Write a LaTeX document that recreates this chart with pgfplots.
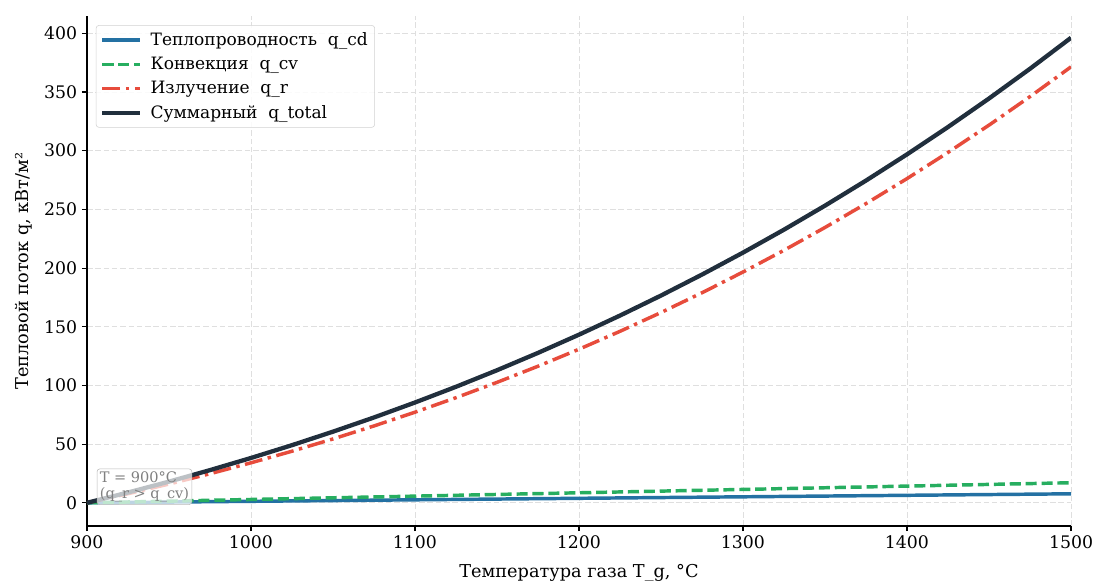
\documentclass[border=0pt]{standalone}
\usepackage{fontspec}
\setmainfont{DejaVu Serif}
\usepackage{pgfplots}
\pgfplotsset{compat=1.18}
\usetikzlibrary{calc}

\definecolor{cdblue}{HTML}{2471A3}
\definecolor{cvgreen}{HTML}{27AE60}
\definecolor{rred}{HTML}{E74C3C}
\definecolor{totdark}{HTML}{212F3D}

\begin{document}
\begin{tikzpicture}
\begin{axis}[name=ax, at={(0,0)}, anchor=south west,
  scale only axis, width=9.84in, height=5.10in,
  xmin=900, xmax=1500, ymin=-19.75, ymax=414.75,
  xtick={900,1000,...,1500}, ytick={0,50,...,400},
  axis x line*=bottom, axis y line*=left,
  axis line style={line width=0.9pt, -},
  tick align=outside, major tick length=0.05in,
  tick style={black, line width=0.8pt},
  xtick pos=bottom, ytick pos=left,
  /pgf/number format/assume math mode=true,
  /pgf/number format/1000 sep={},
  tick label style={font=\fontsize{12.5}{15}\selectfont},
  label style={font=\fontsize{12.8}{15}\selectfont},
  xlabel={Температура газа T\_g, °C},
  xlabel style={yshift=-4pt},
  ylabel={Тепловой поток q, кВт/м²},
  ylabel style={yshift=2pt},
  grid=major, grid style={gray!25, line width=0.6pt, dash pattern=on 4pt off 2pt},
  legend cell align=left,
  legend style={at={(0.009,0.982)}, anchor=north west, draw=gray!35, rounded corners=2pt,
    fill=white, fill opacity=0.85, text opacity=1, font=\fontsize{12.3}{15}\selectfont,
    row sep=3pt, inner sep=3pt},
  legend image code/.code={\draw[#1] (0cm,0cm) -- (0.95cm,0cm); \path (1.1cm,0cm);},
]
\addplot[cdblue, line width=2.5pt] coordinates {
(900,0) (925,0.32) (950,0.64) (975,0.96) (1000,1.28) (1025,1.6) (1050,1.92) (1075,2.24)
(1100,2.56) (1125,2.88) (1150,3.2) (1175,3.52) (1200,3.84) (1225,4.16) (1250,4.48)
(1275,4.8) (1300,5.12) (1325,5.44) (1350,5.76) (1375,6.08) (1400,6.4) (1425,6.72)
(1450,7.04) (1475,7.36) (1500,7.68)};
\addlegendentry{Теплопроводность\ \ q\_cd}
\addplot[cvgreen, line width=2.5pt, dash pattern=on 8pt off 3.5pt] coordinates {
(900,0) (925,0.71) (950,1.43) (975,2.14) (1000,2.85) (1025,3.56) (1050,4.28) (1075,4.99)
(1100,5.7) (1125,6.41) (1150,7.13) (1175,7.84) (1200,8.55) (1225,9.26) (1250,9.98)
(1275,10.69) (1300,11.4) (1325,12.11) (1350,12.83) (1375,13.54) (1400,14.25) (1425,14.96)
(1450,15.68) (1475,16.39) (1500,17.1)};
\addlegendentry{Конвекция\ \ q\_cv}
\addplot[rred, line width=2.5pt, dash pattern=on 13pt off 4pt on 2.5pt off 4pt] coordinates {
(900,0) (925,7.75) (950,16.0) (975,24.77) (1000,34.08) (1025,43.96) (1050,54.42) (1075,65.50)
(1100,77.21) (1125,89.57) (1150,102.62) (1175,116.37) (1200,130.86) (1225,146.10) (1250,162.13)
(1275,178.96) (1300,196.63) (1325,215.16) (1350,234.58) (1375,254.93) (1400,276.21) (1425,298.48)
(1450,321.75) (1475,346.05) (1500,371.42)};
\addlegendentry{Излучение\ \ q\_r}
\addplot[totdark, line width=3.1pt] coordinates {
(900,0) (925,8.78) (950,18.06) (975,27.86) (1000,38.21) (1025,49.12) (1050,60.62) (1075,72.72)
(1100,85.47) (1125,98.86) (1150,112.95) (1175,127.73) (1200,143.25) (1225,159.53) (1250,176.58)
(1275,194.45) (1300,213.15) (1325,232.71) (1350,253.17) (1375,274.54) (1400,296.86) (1425,320.16)
(1450,344.46) (1475,369.80) (1500,396.20)};
\addlegendentry{Суммарный\ \ q\_total}
\node[anchor=south west, draw=gray!55, rounded corners=2pt, fill=white, fill opacity=0.7,
  text opacity=1, text=gray, align=left, inner sep=2pt,
  font=\fontsize{10.5}{11.5}\selectfont] at (axis cs:906,-1.7) {T = 900°C\\(q\_r > q\_cv)};
\end{axis}
\pgfresetboundingbox
\path[use as bounding box] (-0.87in,-0.55in) rectangle (10.07in,5.26in);
\end{tikzpicture}
\end{document}
